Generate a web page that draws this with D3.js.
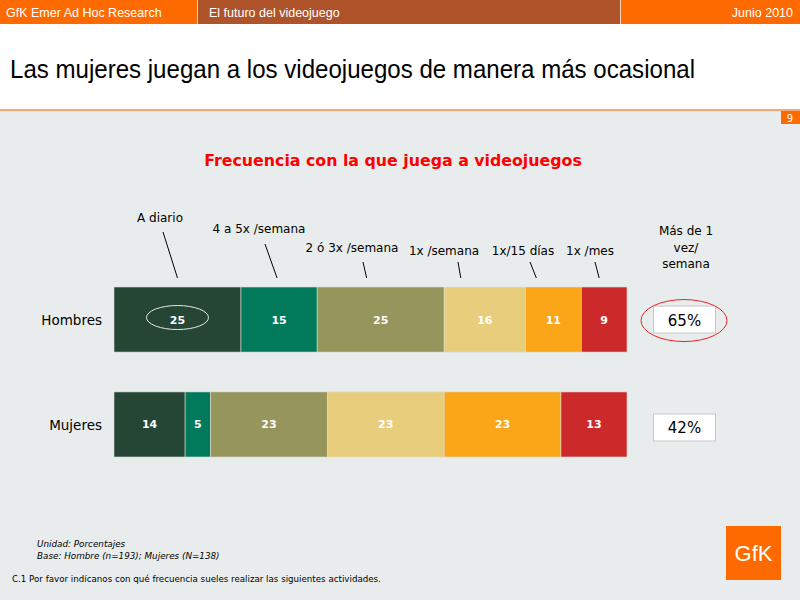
<!DOCTYPE html>
<html><head><meta charset="utf-8">
<script src="https://cdn.jsdelivr.net/npm/d3@7"></script>
<style>
html,body{margin:0;padding:0;background:#fff;}
svg{display:block;}
</style></head>
<body>
<svg id="c" width="800" height="600"></svg>
<script>
// ---- data ----
const categories = ["A diario","4 a 5x /semana","2 ó 3x /semana","1x /semana","1x/15 días","1x /mes"];
const groups = ["Hombres","Mujeres"];
const hombres = [25,15,25,16,11,9];
const mujeres = [14,5,23,23,23,13];
const masDeUnaVez = [65,42];
const colors = ["#254634","#007A5A","#96955C","#E8CE7C","#FBA519","#CC2A2A"];

const headerTexts = ["GfK Emer Ad Hoc Research","El futuro del videojuego","Junio 2010"];
const title = "Las mujeres juegan a los videojuegos de manera más ocasional";
const subtitle = "Frecuencia con la que juega a videojuegos";
const colHeader = ["Más de 1","vez/","semana"];
const notes = ["Unidad: Porcentajes","Base: Hombre (n=193); Mujeres (N=138)"];
const question = "C.1 Por favor indícanos con qué frecuencia sueles realizar las siguientes actividades.";

// ---- layout ----
const svg = d3.select("#c");
const FONT = "'DejaVu Sans', Verdana, sans-serif";

// header
svg.append("rect").attr("x",0).attr("y",0).attr("width",800).attr("height",24).attr("fill","#FF6A00");
svg.append("rect").attr("x",198).attr("y",0).attr("width",422).attr("height",24).attr("fill","#AF532A");
[197,620].forEach(x=>svg.append("line").attr("x1",x+0.5).attr("x2",x+0.5).attr("y1",0).attr("y2",24).attr("stroke","#f3d2bf").attr("stroke-width",1));
svg.append("text").attr("x",6).attr("y",17).text(headerTexts[0]);
svg.append("text").attr("x",209).attr("y",17).text(headerTexts[1]);
svg.append("text").attr("x",793).attr("y",17).attr("text-anchor","end").text(headerTexts[2]);
svg.selectAll("text").attr("fill","#fff").attr("font-family","'Liberation Sans', Arial, sans-serif").attr("font-size",12.5);

// white band + grey background
svg.append("rect").attr("x",0).attr("y",24).attr("width",800).attr("height",86).attr("fill","#fff");
svg.append("rect").attr("x",0).attr("y",110).attr("width",800).attr("height",490).attr("fill","#E9ECEC");
svg.append("rect").attr("x",0).attr("y",109).attr("width",800).attr("height",2).attr("fill","#F6A774");
svg.append("rect").attr("x",781).attr("y",111).attr("width",19).attr("height",13).attr("fill","#FF6A00");
svg.append("text").attr("x",790).attr("y",121.5).attr("text-anchor","middle").attr("fill","#fff")
  .attr("font-family",FONT).attr("font-size",10).text("9");

// title
svg.append("text").attr("x",10).attr("y",78).attr("font-family","'Liberation Sans', Arial, sans-serif")
  .attr("font-size",26).attr("fill","#000").attr("textLength",685).attr("lengthAdjust","spacingAndGlyphs").text(title);

// subtitle
svg.append("text").attr("x",393).attr("y",166).attr("text-anchor","middle").attr("font-family",FONT)
  .attr("font-weight","bold").attr("font-size",15.8).attr("fill","#FF0000").text(subtitle);

// scales
const x0 = 114, x1 = 627;
const y = d3.scaleBand().domain(groups).range([287,457]).paddingInner(0.38).paddingOuter(0);
const rows = [hombres, mujeres];

rows.forEach((vals,ri)=>{
  const total = d3.sum(vals);
  const x = d3.scaleLinear().domain([0,total]).range([x0,x1]);
  const cum = d3.cumsum(vals);
  const segs = vals.map((v,i)=>({v, i, s: cum[i]-v, e: cum[i]}));
  const g = svg.append("g");
  g.selectAll("rect").data(segs).join("rect")
    .attr("x",d=>x(d.s)).attr("y",y(groups[ri])).attr("width",d=>x(d.e)-x(d.s)).attr("height",y.bandwidth())
    .attr("fill",d=>colors[d.i]).attr("stroke","#d9dcd6").attr("stroke-width",0.6);
  g.selectAll("text").data(segs).join("text")
    .attr("x",d=>(x(d.s)+x(d.e))/2).attr("y",y(groups[ri])+y.bandwidth()/2+4)
    .attr("text-anchor","middle").attr("font-family",FONT).attr("font-weight","bold").attr("font-size",11)
    .attr("fill","#fff").text(d=>d.v);
  // row label
  svg.append("text").attr("x",102).attr("y",y(groups[ri])+y.bandwidth()/2+5.5).attr("text-anchor","end")
    .attr("font-family",FONT).attr("font-size",13.5).attr("fill","#000").text(groups[ri]);
  // right box
  const cy = y(groups[ri])+y.bandwidth()/2;
  svg.append("rect").attr("x",653.5).attr("y",cy-13.5+(ri?3:0)).attr("width",62).attr("height",27)
    .attr("fill","#fff").attr("stroke","#c8c8c8").attr("stroke-width",1);
  svg.append("text").attr("x",684.5).attr("y",cy+6+(ri?3:0)).attr("text-anchor","middle")
    .attr("font-family",FONT).attr("font-size",15).attr("fill","#000").text(masDeUnaVez[ri]+"%");

  if(ri===0){
    // white ellipse around first value
    svg.append("ellipse").attr("cx",(x(segs[0].s)+x(segs[0].e))/2).attr("cy",cy-2).attr("rx",31).attr("ry",12)
      .attr("fill","none").attr("stroke","#e8e8e8").attr("stroke-width",1);
    // red ellipse around box
    svg.append("ellipse").attr("cx",684).attr("cy",cy+1).attr("rx",43).attr("ry",21)
      .attr("fill","none").attr("stroke","#EE2222").attr("stroke-width",1);
    // category labels with leader lines
    const ann = [
      {tx:160, ty:222, lx:163, ly:232, dx:0},
      {tx:259, ty:233, lx:265, ly:244, dx:-2},
      {tx:352, ty:252, lx:363, ly:262, dx:-14},
      {tx:444, ty:255, lx:458, ly:262, dx:-24},
      {tx:523, ty:255, lx:530, ly:262, dx:-17},
      {tx:590, ty:255, lx:595, ly:262, dx:-5}
    ];
    segs.forEach((d,i)=>{
      const a = ann[i];
      svg.append("text").attr("x",a.tx).attr("y",a.ty).attr("text-anchor","middle")
        .attr("font-family",FONT).attr("font-size",12).attr("fill","#000").text(categories[i]);
      svg.append("line").attr("x1",a.lx).attr("y1",a.ly)
        .attr("x2",(x(d.s)+x(d.e))/2+a.dx).attr("y2",278).attr("stroke","#000").attr("stroke-width",1);
    });
  }
});

// column header
colHeader.forEach((t,i)=>svg.append("text").attr("x",686).attr("y",235+i*16.5).attr("text-anchor","middle")
  .attr("font-family",FONT).attr("font-size",12).attr("fill","#000").text(t));

// notes
notes.forEach((t,i)=>svg.append("text").attr("x",37).attr("y",547+i*11.5).attr("font-family",FONT)
  .attr("font-style","italic").attr("font-size",8.8).attr("fill","#000").text(t));
svg.append("text").attr("x",12).attr("y",582).attr("font-family",FONT).attr("font-size",8.7).attr("fill","#000").text(question);

// logo
svg.append("rect").attr("x",726).attr("y",526).attr("width",55).attr("height",54).attr("fill","#FF6A00");
svg.append("text").attr("x",753.5).attr("y",561).attr("text-anchor","middle").attr("font-family","'Liberation Sans', Arial, sans-serif")
  .attr("font-size",22).attr("fill","#fff").text("GfK");
</script>
</body></html>
